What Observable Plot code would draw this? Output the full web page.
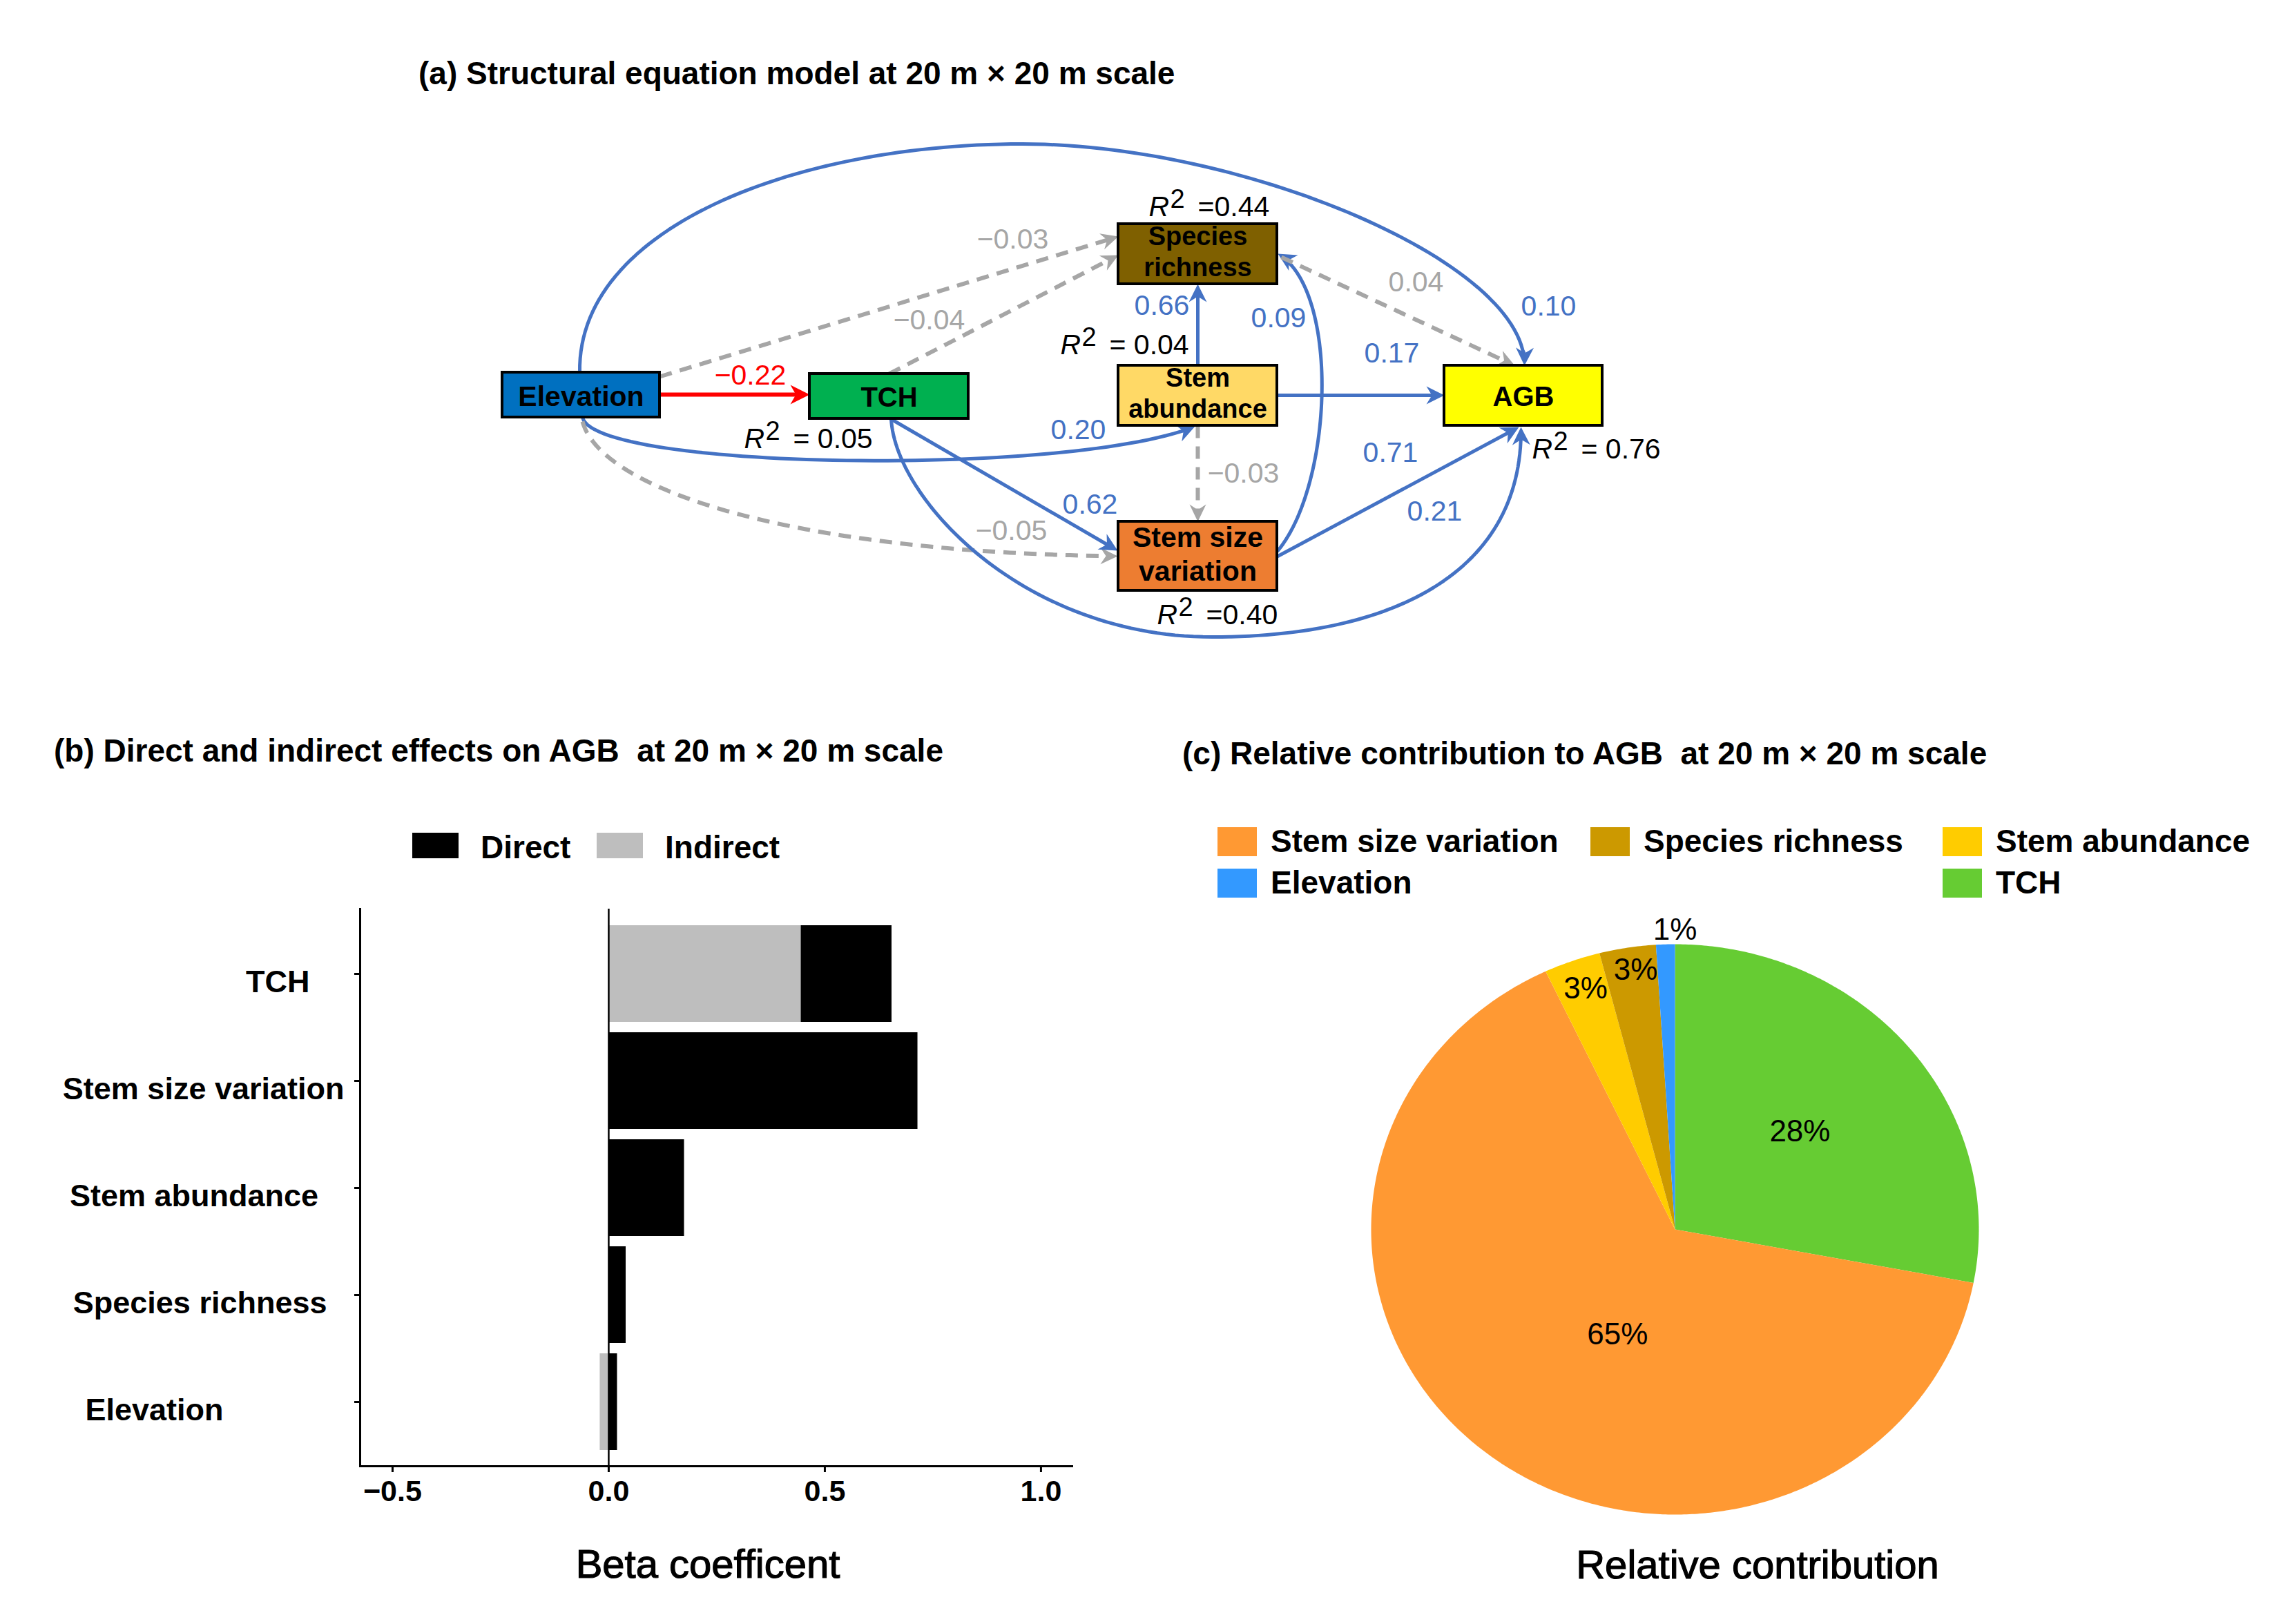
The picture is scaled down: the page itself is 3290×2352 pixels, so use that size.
<!DOCTYPE html>
<html>
<head>
<meta charset="utf-8">
<script src="https://cdn.jsdelivr.net/npm/d3@7"></script>
<script src="https://cdn.jsdelivr.net/npm/@observablehq/plot@0.6"></script>
<style>
  html, body { margin: 0; padding: 0; background: #ffffff; }
  #page { position: relative; width: 3290px; height: 2352px; overflow: hidden; background: #fff;
          font-family: "Liberation Sans", Arial, Helvetica, sans-serif; color: #000; }
  .abs { position: absolute; white-space: pre; line-height: 1; }
  .plot { position: absolute; overflow: visible; }
</style>
</head>
<body>
<div id="page"></div>
<script>
// ===================== DATA =====================
// (a) structural equation model
const nodeIds = ["Elevation", "TCH", "Species richness", "Stem abundance", "Stem size variation", "AGB"];
const nodeLabels = ["Elevation", "TCH", "Species\nrichness", "Stem\nabundance", "Stem size\nvariation", "AGB"];
const pathFrom = ["Elevation", "Elevation", "TCH", "Elevation", "Elevation", "Elevation", "TCH",
                  "TCH", "Stem abundance", "Stem abundance", "Stem abundance", "Stem size variation",
                  "Stem size variation", "Species richness"];
const pathTo   = ["TCH", "Species richness", "Species richness", "AGB", "Stem abundance", "Stem size variation",
                  "Stem size variation", "AGB", "Species richness", "AGB", "Stem size variation",
                  "Species richness", "AGB", "AGB"];
const pathCoef = [-0.22, -0.03, -0.04, 0.10, 0.20, -0.05, 0.62, 0.21, 0.66, 0.17, -0.03, 0.09, 0.71, 0.04];
const pathSignificant = [true, false, false, true, true, false, true, true, true, true, false, true, true, false];
const r2Nodes = ["TCH", "Stem abundance", "Species richness", "Stem size variation", "AGB"];
const r2Text  = ["= 0.05", "= 0.04", "=0.44", "=0.40", "= 0.76"];

// (b) direct and indirect effects
const predictors = ["TCH", "Stem size variation", "Stem abundance", "Species richness", "Elevation"];
const directEffect   = [0.21, 0.715, 0.175, 0.04, 0.02];
const indirectEffect = [0.445, 0.0, 0.0, 0.0, -0.02];
const effectTypes = ["Direct", "Indirect"];
const xTicks = [-0.5, 0.0, 0.5, 1.0];

// (c) relative contribution (%)
const contribNames = ["TCH", "Stem size variation", "Stem abundance", "Species richness", "Elevation"];
const contribPct   = [28, 65, 3, 3, 1];

// ===================== LAYOUT / STYLE =====================
const FONT = '"Liberation Sans", Arial, Helvetica, sans-serif';
const BLUE = "#4472C4", RED = "#FF0000", GRAY = "#A6A6A6";

const nodeLayout = {
  "Elevation":           {x1: 727,  x2: 955,  y1: 539, y2: 604, fill: "#0070C0", fs: 41},
  "TCH":                 {x1: 1172, x2: 1402, y1: 541, y2: 606, fill: "#00B050", fs: 40},
  "Species richness":    {x1: 1619, x2: 1849, y1: 324, y2: 411, fill: "#7F6000", fs: 38},
  "Stem abundance":      {x1: 1619, x2: 1849, y1: 529, y2: 616, fill: "#FFD966", fs: 38},
  "Stem size variation": {x1: 1619, x2: 1849, y1: 755, y2: 855, fill: "#ED7D31", fs: 41},
  "AGB":                 {x1: 2091, x2: 2320, y1: 529, y2: 616, fill: "#FFFF00", fs: 40}
};
// edge geometry: straight [start,end] or chains of cubic Bezier segments
const edgeGeom = [
  [[955, 571], [1172, 571]],
  [[955, 545], [1619, 342]],
  [[1287, 541], [1619, 369]],
  [[839, 539], [835, 330], [1150, 208], [1480, 208], [1800, 208], [2210, 380], [2207, 529]],
  [[843, 604], [860, 680], [1550, 690], [1730, 617]],
  [[843, 610], [870, 710], [1150, 800], [1618, 805]],
  [[1289, 606], [1618, 797]],
  [[1290, 606], [1295, 720], [1480, 922], [1755, 922], [2030, 922], [2205, 820], [2202, 618]],
  [[1734, 529], [1734, 411]],
  [[1849, 572], [2091, 572]],
  [[1734, 616], [1734, 755]],
  [[1850, 797], [1930, 700], [1940, 420], [1850, 367]],
  [[1850, 805], [2199, 618]],
  [[1855, 372], [2193, 529]]
];
const coefPos = [[1086, 543], [1466, 346], [1345, 463], [2242, 443], [1561, 622], [1464, 768], [1578, 730],
                 [2077, 740], [1682, 442], [2015, 511], [1800, 685], [1851, 460], [2013, 655], [2050, 408]];
const r2Layout = {
  "TCH": [1077, 648], "Stem abundance": [1535, 512], "Species richness": [1663, 312],
  "Stem size variation": [1675, 903], "AGB": [2218, 663]
};
const yLabelPad = {"TCH": 4, "Stem size variation": 0, "Stem abundance": 3, "Species richness": 2, "Elevation": 14};
const pieColors = {"TCH": "#66CC33", "Stem size variation": "#FF9933", "Stem abundance": "#FFCC00",
                   "Species richness": "#CC9900", "Elevation": "#3399FF"};
const pieLabelPlace = [{r: 0.536, da: -0.3}, {r: 0.414, da: -10.6}, {r: 0.895, da: 0.6}, {r: 0.919, da: 0.9}, {r: 1.051, da: 1.8}];
const pieLegend = [
  {name: "Stem size variation", col: 0, row: 0}, {name: "Species richness", col: 1, row: 0},
  {name: "Stem abundance", col: 2, row: 0}, {name: "Elevation", col: 0, row: 1}, {name: "TCH", col: 2, row: 1}
];

const page = document.getElementById("page");
function addText(text, left, top, css) {
  const d = document.createElement("div");
  d.className = "abs";
  d.textContent = text;
  d.style.left = left + "px";
  d.style.top = top + "px";
  Object.assign(d.style, css || {});
  page.appendChild(d);
  return d;
}
function addBox(left, top, w, h, color) {
  const d = document.createElement("div");
  d.className = "abs";
  Object.assign(d.style, {left: left + "px", top: top + "px", width: w + "px", height: h + "px", background: color});
  page.appendChild(d);
}
function place(svg, left, top) {
  svg.classList.add("plot");
  svg.style.left = left + "px";
  svg.style.top = top + "px";
  page.appendChild(svg);
}

// ===================== PANEL (a) =====================
const nodes = nodeIds.map((id, i) => {
  const L = nodeLayout[id];
  const multi = nodeLabels[i].includes("\n");
  return {id, label: nodeLabels[i], ...L, cx: (L.x1 + L.x2) / 2, cy: (L.y1 + L.y2) / 2 + (multi ? -5 : 0)};
});
function bez(p0, p1, p2, p3, t) {
  const u = 1 - t;
  return [u*u*u*p0[0] + 3*u*u*t*p1[0] + 3*u*t*t*p2[0] + t*t*t*p3[0],
          u*u*u*p0[1] + 3*u*u*t*p1[1] + 3*u*t*t*p2[1] + t*t*t*p3[1]];
}
const fmt2 = d3.format(".2f");
const edges = pathFrom.map((from, i) => {
  const coef = pathCoef[i], sig = pathSignificant[i];
  const color = !sig ? GRAY : (coef < 0 ? RED : BLUE);
  const g = edgeGeom[i];
  let pts;
  if (g.length === 2) pts = [g[0], g[1]];
  else {
    pts = [g[0]];
    for (let s = 0; s + 3 < g.length; s += 3)
      for (let k = 1; k <= 60; k++) pts.push(bez(g[s], g[s + 1], g[s + 2], g[s + 3], k / 60));
  }
  const tip = g[g.length - 1], prev = g[g.length - 2];
  let dx = tip[0] - prev[0], dy = tip[1] - prev[1];
  const len = Math.hypot(dx, dy); dx /= len; dy /= len;
  const nx = -dy, ny = dx;
  const L = color === RED ? 28 : (color === GRAY ? 25 : 26);
  const W = color === RED ? 14 : (color === GRAY ? 12 : 13);
  const notch = 8;
  const head = [tip,
    [tip[0] - L*dx + W*nx, tip[1] - L*dy + W*ny],
    [tip[0] - (L - notch)*dx, tip[1] - (L - notch)*dy],
    [tip[0] - L*dx - W*nx, tip[1] - L*dy - W*ny]];
  const cut = L - notch - 2;
  const line = pts.filter(p => Math.hypot(p[0] - tip[0], p[1] - tip[1]) > cut);
  line.push([tip[0] - cut*dx, tip[1] - cut*dy]);
  return {from, to: pathTo[i], coef, label: fmt2(coef), color, line, head,
          lx: coefPos[i][0], ly: coefPos[i][1], width: color === BLUE ? 5 : 6, dashed: !sig};
});
const r2 = r2Nodes.map((n, i) => ({node: n, text: r2Text[i], x: r2Layout[n][0], y: r2Layout[n][1]}));

const edgeMarks = edges.flatMap(e => [
  Plot.line(e.line, {x: d => d[0], y: d => d[1], stroke: e.color, strokeWidth: e.width,
    strokeDasharray: e.dashed ? "18,12" : null, strokeLinecap: e.dashed ? "butt" : "round", curve: "linear"}),
  Plot.line(e.head, {x: d => d[0], y: d => d[1], fill: e.color, stroke: "none", curve: "linear-closed"})
]);

const plotA = Plot.plot({
  width: 3290, height: 960, margin: 0,
  x: {domain: [0, 3290], range: [0, 3290], axis: null},
  y: {domain: [0, 960], range: [0, 960], axis: null},
  color: {type: "identity"},
  style: {fontFamily: FONT, background: "transparent", overflow: "visible", color: "black"},
  marks: [
    ...edgeMarks,
    Plot.rect(nodes, {x1: "x1", x2: "x2", y1: "y1", y2: "y2", fill: d => d.fill, stroke: "black", strokeWidth: 4}),
    Plot.text(nodes, {x: "cx", y: "cy", text: "label", fill: "black", fontWeight: "bold",
      fontSize: d => d.fs, lineHeight: 1.2}),
    Plot.text(edges, {x: "lx", y: "ly", text: "label", fill: d => d.color, fontSize: 41}),
    Plot.text(r2, {x: "x", y: "y", text: () => "R", fontStyle: "italic", fontSize: 41, textAnchor: "start", lineAnchor: "bottom", fill: "black"}),
    Plot.text(r2, {x: d => d.x + 31, y: d => d.y - 12, text: () => "2", fontSize: 38, textAnchor: "start", lineAnchor: "bottom", fill: "black"}),
    Plot.text(r2, {x: d => d.x + 71, y: "y", text: "text", fontSize: 41, textAnchor: "start", lineAnchor: "bottom", fill: "black"})
  ]
});
place(plotA, 0, 0);
addText("(a) Structural equation model at 20 m \u00D7 20 m scale", 606, 83, {fontWeight: "bold", fontSize: "46px"});

// ===================== PANEL (b) =====================
const barData = [
  ...predictors.map((p, i) => ({predictor: p, type: "Indirect", value: indirectEffect[i]})),
  ...predictors.map((p, i) => ({predictor: p, type: "Direct", value: directEffect[i]}))
].filter(d => d.value !== 0);
const plotB = Plot.plot({
  width: 1640, height: 1030, marginLeft: 521, marginRight: 88, marginTop: 26, marginBottom: 197,
  x: {domain: [-0.575, 1.072]},
  y: {domain: predictors, paddingInner: 0.1, paddingOuter: 0.15},
  color: {domain: effectTypes, range: ["#000000", "#BEBEBE"]},
  style: {fontFamily: FONT, background: "transparent", overflow: "visible", color: "black"},
  marks: [
    Plot.barX(barData, Plot.stackX({x: "value", y: "predictor", fill: "type"})),
    Plot.ruleX([0], {strokeWidth: 2.5}),
    Plot.frame({anchor: "left", strokeWidth: 3}),
    Plot.frame({anchor: "bottom", strokeWidth: 3}),
    Plot.axisX({ticks: xTicks, tickFormat: d3.format(".1f"), tickSize: 9, tickPadding: 11, strokeWidth: 3,
      fontSize: 43, fontWeight: "bold", label: null}),
    Plot.axisY({tickSize: 8, strokeWidth: 3, fill: "none", label: null}),
    Plot.axisY({tickSize: 0, tickPadding: 23, dy: 12, fontSize: 45, fontWeight: "bold", label: null,
      tickFormat: d => d + "\u00A0".repeat(yLabelPad[d] || 0)})
  ]
});
place(plotB, 0, 1290);
addText("(b) Direct and indirect effects on AGB\u00A0 at 20 m \u00D7 20 m scale", 78, 1064, {fontWeight: "bold", fontSize: "46px"});
addText("Beta coefficent", 625, 2236, {fontSize: "58px", width: "800px", textAlign: "center", webkitTextStroke: "1.2px #000"});
// legend (b)
const legendBColors = {"Direct": "#000000", "Indirect": "#BEBEBE"};
[["Direct", 597], ["Indirect", 864]].forEach(([t, x]) => {
  addBox(x, 1206, 67, 37, legendBColors[t]);
  addText(t, x + 99, 1204, {fontWeight: "bold", fontSize: "46px"});
});

// ===================== PANEL (c) =====================
const arcs = d3.pie().sort(null).value(d => d)(contribPct);
const slices = arcs.map((a, i) => {
  const pts = [[0, 0]];
  const n = Math.max(6, Math.ceil((a.endAngle - a.startAngle) / (Math.PI / 360)));
  for (let k = 0; k <= n; k++) {
    const t = a.startAngle + (a.endAngle - a.startAngle) * k / n;
    pts.push([Math.sin(t), Math.cos(t)]);
  }
  return {name: contribNames[i], color: pieColors[contribNames[i]], pts};
});
const pieLabels = arcs.map((a, i) => {
  const m = (a.startAngle + a.endAngle) / 2 + pieLabelPlace[i].da * Math.PI / 180;
  const r = pieLabelPlace[i].r;
  return {x: r * Math.sin(m), y: r * Math.cos(m), text: contribPct[i] + "%"};
});
const plotC = Plot.plot({
  width: 1590, height: 1000, margin: 0,
  x: {domain: [-1, 1], range: [285, 1165], axis: null},
  y: {domain: [-1, 1], range: [873, 47], axis: null},
  style: {fontFamily: FONT, background: "transparent", overflow: "visible", color: "black"},
  marks: [
    ...slices.map(s => Plot.line(s.pts, {x: d => d[0], y: d => d[1], fill: s.color, stroke: "none", curve: "linear-closed"})),
    Plot.text(pieLabels, {x: "x", y: "y", text: "text", fontSize: 44, fill: "black"})
  ]
});
place(plotC, 1700, 1320);
addText("(c) Relative contribution to AGB\u00A0 at 20 m \u00D7 20 m scale", 1712, 1068, {fontWeight: "bold", fontSize: "46px"});
addText("Relative contribution", 2145, 2237, {fontSize: "58px", width: "800px", textAlign: "center", webkitTextStroke: "1.2px #000"});
// legend (c)
const legColX = [1763, 2303, 2813], legRowY = [1198, 1258];
pieLegend.forEach(item => {
  const x = legColX[item.col], y = legRowY[item.row];
  addBox(x, y, 57, 42, pieColors[item.name]);
  addText(item.name, x + 77, y - 3, {fontWeight: "bold", fontSize: "46px"});
});
</script>
</body>
</html>
